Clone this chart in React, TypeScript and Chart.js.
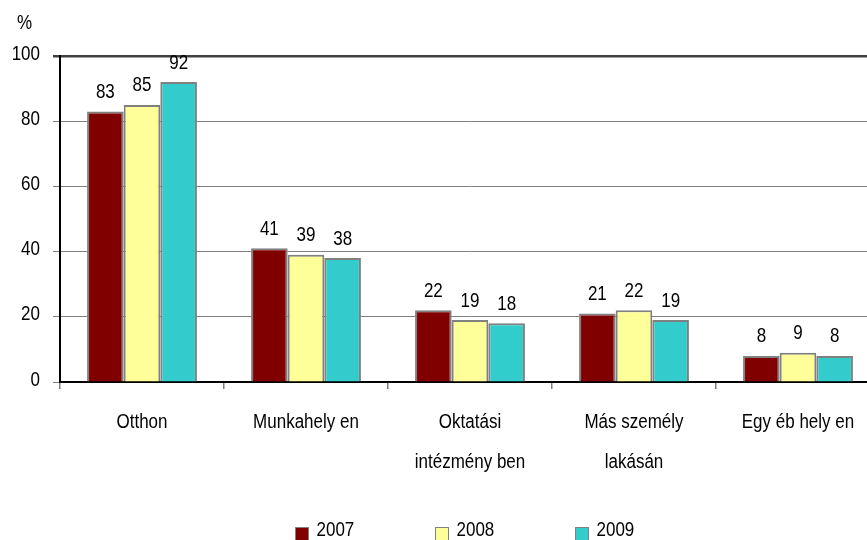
import React, { useEffect, useRef } from "react";
import { Chart, registerables } from "chart.js";

Chart.register(...registerables);

const categories: string[][] = [
  ["Otthon"],
  ["Munkahely en"],
  ["Oktatási", "intézmény ben"],
  ["Más személy", "lakásán"],
  ["Egy éb hely en"],
];
const seriesNames = ["2007", "2008", "2009"];
const values2007 = [83, 41, 22, 21, 8];
const values2008 = [85, 39, 19, 22, 9];
const values2009 = [92, 38, 18, 19, 8];
const seriesColors = ["#800000", "#FFFF99", "#33CCCC"];
const yTicks = [0, 20, 40, 60, 80, 100];

const FONT = "'Liberation Sans', Arial, sans-serif";
const FS = 20;
const SQUEEZE = 0.85;

function drawText(ctx: any, text: string, x: number, y: number, align: string) {
  ctx.save();
  ctx.translate(x, y);
  ctx.scale(SQUEEZE, 1);
  ctx.textAlign = align;
  ctx.textBaseline = "middle";
  ctx.fillText(text, 0, 0);
  ctx.restore();
}

const labelPlugin = {
  id: "customDraw",
  afterDatasetsDraw(chart: any) {
    const ctx = chart.ctx;
    ctx.save();
    ctx.font = `${FS}px ${FONT}`;
    ctx.fillStyle = "#000";
    // value labels
    chart.data.datasets.forEach((ds: any, di: number) => {
      const meta = chart.getDatasetMeta(di);
      meta.data.forEach((bar: any, i: number) => {
        drawText(ctx, String(ds.data[i]), bar.x, bar.y - 19, "center");
      });
    });
    // y tick labels
    const ys = chart.scales.y;
    ys.ticks.forEach((t: any) => {
      drawText(ctx, String(t.value), 40, ys.getPixelForValue(t.value) - 2, "right");
    });
    // x tick labels
    const xs = chart.scales.x;
    chart.data.labels.forEach((lab: string[], i: number) => {
      const x = xs.getPixelForTick(i);
      lab.forEach((line: string, li: number) => {
        drawText(ctx, line, x, 422 + li * 40, "center");
      });
    });
    // % title
    drawText(ctx, "%", 24.5, 23, "center");
    // legend
    chart.data.datasets.forEach((ds: any, di: number) => {
      const bx = 295.5 + di * 140;
      const by = 527.5;
      ctx.fillStyle = ds.backgroundColor;
      ctx.fillRect(bx, by, 13, 13);
      ctx.strokeStyle = "#808080";
      ctx.lineWidth = 1;
      ctx.strokeRect(bx, by, 13, 13);
      ctx.fillStyle = "#000";
      drawText(ctx, ds.label, bx + 21, 530, "left");
    });
    ctx.restore();
  },
};

export default function App() {
  const canvasRef = useRef<HTMLCanvasElement | null>(null);

  useEffect(() => {
    if (!canvasRef.current) return;
    const datasets = [values2007, values2008, values2009].map((d, i) => ({
      label: seriesNames[i],
      data: d,
      backgroundColor: seriesColors[i],
      borderColor: "#808080",
      borderWidth: 2,
      categoryPercentage: 0.67,
      barPercentage: 1,
    }));
    const chart = new Chart(canvasRef.current, {
      type: "bar",
      data: { labels: categories, datasets },
      options: {
        animation: false,
        responsive: true,
        maintainAspectRatio: false,
        layout: { padding: { top: 56, left: 0, right: 0, bottom: 0 } },
        plugins: {
          legend: { display: false },
          tooltip: { enabled: false },
        },
        scales: {
          x: {
            offset: true,
            grid: {
              offset: true,
              drawOnChartArea: false,
              drawTicks: true,
              tickLength: 7,
              color: "#808080",
              lineWidth: 1.5,
            },
            border: { color: "#000", width: 2 },
            ticks: { display: false, autoSkip: false, maxRotation: 0 },
            afterFit: (scale: any) => {
              scale.height = 158;
            },
          },
          y: {
            min: 0,
            max: 100,
            afterBuildTicks: (scale: any) => {
              scale.ticks = yTicks.map((v) => ({ value: v }));
            },
            grid: {
              color: (c: any) => (c.tick && c.tick.value === 100 ? "#404040" : "#808080"),
              lineWidth: (c: any) => (c.tick && c.tick.value === 100 ? 2.5 : 1),
              tickLength: 7,
              drawTicks: true,
            },
            border: { color: "#000", width: 2 },
            ticks: { display: false },
            afterFit: (scale: any) => {
              scale.width = 60;
            },
          },
        },
      },
      plugins: [labelPlugin],
    });
    return () => chart.destroy();
  }, []);

  return (
    <div
      style={{
        position: "fixed",
        left: 0,
        top: 0,
        width: 867,
        height: 540,
        overflow: "hidden",
        background: "#fff",
      }}
    >
      <div style={{ position: "relative", width: 880, height: 540 }}>
        <canvas ref={canvasRef} />
      </div>
    </div>
  );
}
